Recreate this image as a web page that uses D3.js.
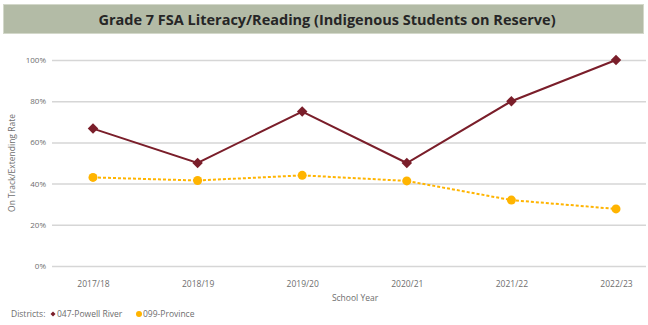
<!DOCTYPE html>
<html>
<head>
<meta charset="utf-8">
<script src="https://cdn.jsdelivr.net/npm/d3@7"></script>
<style>
  html, body { margin: 0; padding: 0; background: #ffffff; }
  svg { display: block; }
  text { font-family: "Open Sans", "Noto Sans", sans-serif; }
</style>
</head>
<body>
<svg id="chart" width="648" height="325"></svg>
<script>
// School years on the x axis
const years = ["2017/18", "2018/19", "2019/20", "2020/21", "2021/22", "2022/23"];
// On Track / Extending rate (%) by district
const powellRiver = [66.7, 50, 75, 50, 80, 100];
const province = [43, 41.5, 44, 41.3, 32, 27.7];
const yTicks = [0, 20, 40, 60, 80, 100];

const svg = d3.select("#chart");
const textGray = "#6e6e6e";

// Title banner
svg.append("rect")
  .attr("x", 3.5).attr("y", 4.5).attr("width", 640).attr("height", 29)
  .attr("fill", "#b3bba6").attr("stroke", "#d3d8ca").attr("stroke-width", 1);
svg.append("text")
  .attr("x", 327).attr("y", 24.5)
  .attr("text-anchor", "middle")
  .attr("font-size", 14.5).attr("font-weight", 700)
  .attr("fill", "#262626")
  .text("Grade 7 FSA Literacy/Reading (Indigenous Students on Reserve)");

const plotLeft = 52, plotRight = 646;
const x = d3.scalePoint().domain(years).range([93, 616]);
const y = d3.scaleLinear().domain([0, 100]).range([266, 60]);

// Horizontal gridlines with percentage labels
const yAxis = d3.axisLeft(y)
  .tickValues(yTicks)
  .tickSize(-(plotRight - plotLeft))
  .tickPadding(6)
  .tickFormat(d => d + "%");
const gy = svg.append("g").attr("transform", `translate(${plotLeft},0)`).call(yAxis);
gy.select(".domain").remove();
gy.selectAll(".tick line").attr("stroke", "#d6d6d6").attr("stroke-width", 1.5);
gy.selectAll(".tick text").attr("font-size", 8).attr("fill", textGray);

// Year labels
const xAxis = d3.axisBottom(x).tickSize(0).tickPadding(0);
const gx = svg.append("g").attr("transform", "translate(0,281)").call(xAxis);
gx.select(".domain").remove();
gx.selectAll(".tick text").attr("font-size", 8.5).attr("fill", textGray);

// Axis titles
svg.append("text")
  .attr("transform", "translate(15,163) rotate(-90)")
  .attr("text-anchor", "middle")
  .attr("font-size", 8.5).attr("fill", textGray)
  .text("On Track/Extending Rate");
svg.append("text")
  .attr("x", 355).attr("y", 301)
  .attr("text-anchor", "middle")
  .attr("font-size", 8.5).attr("fill", textGray)
  .text("School Year");

const red = "#7a1e2a", gold = "#ffb400";

// Province series: dashed line with round markers
const provData = years.map((yr, i) => ({ yr, v: province[i] }));
svg.append("path")
  .datum(provData)
  .attr("fill", "none").attr("stroke", gold)
  .attr("stroke-width", 2).attr("stroke-dasharray", "3,2")
  .attr("d", d3.line().x(d => x(d.yr)).y(d => y(d.v)));
svg.selectAll("circle.prov").data(provData).enter().append("circle")
  .attr("class", "prov")
  .attr("cx", d => x(d.yr)).attr("cy", d => y(d.v)).attr("r", 4.5)
  .attr("fill", gold);

// Powell River series: solid line with diamond markers
const prData = years.map((yr, i) => ({ yr, v: powellRiver[i] }));
svg.append("path")
  .datum(prData)
  .attr("fill", "none").attr("stroke", red).attr("stroke-width", 2)
  .attr("d", d3.line().x(d => x(d.yr)).y(d => y(d.v)));
const diamond = d3.symbol().type(d3.symbolDiamond2).size(70);
svg.selectAll("path.pr").data(prData).enter().append("path")
  .attr("class", "pr")
  .attr("transform", d => `translate(${x(d.yr)},${y(d.v)})`)
  .attr("d", diamond)
  .attr("fill", red);

// Legend
const lg = svg.append("g").attr("transform", "translate(11,317)");
lg.append("text").attr("x", 0).attr("y", 0).attr("font-size", 8.5).attr("fill", textGray).text("Districts:");
lg.append("path").attr("transform", "translate(42,-3)")
  .attr("d", d3.symbol().type(d3.symbolDiamond2).size(16)).attr("fill", red);
lg.append("text").attr("x", 46).attr("y", 0).attr("font-size", 8.5).attr("fill", textGray).text("047-Powell River");
lg.append("circle").attr("cx", 128).attr("cy", -3).attr("r", 3).attr("fill", gold);
lg.append("text").attr("x", 132).attr("y", 0).attr("font-size", 8.5).attr("fill", textGray).text("099-Province");
</script>
</body>
</html>
